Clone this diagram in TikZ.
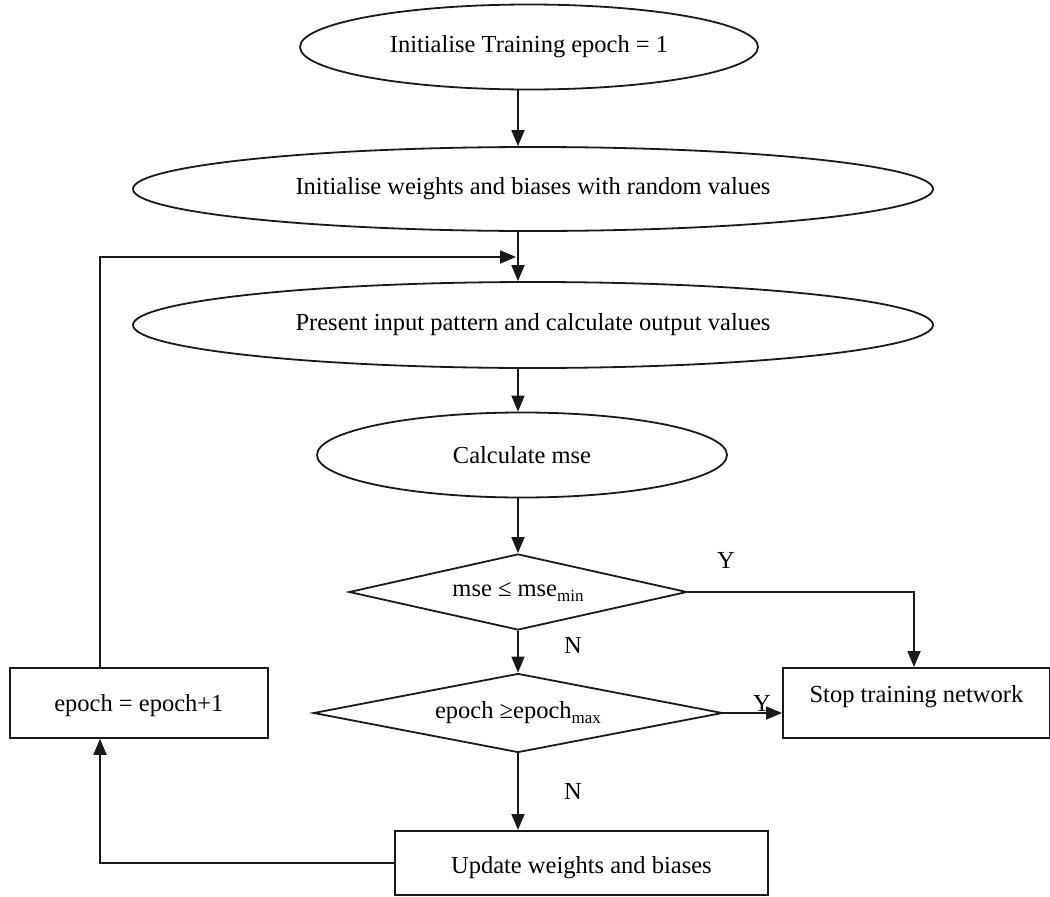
\documentclass[tikz,border=0pt]{standalone}
\usepackage{fontspec}
\setmainfont{Liberation Serif}
\usetikzlibrary{shapes.geometric,arrows.meta}
\newcommand\lowsub[1]{\raisebox{-5pt}{\fontsize{17}{17}\selectfont #1}}
\begin{document}
\begin{tikzpicture}[x=1pt,y=-1pt,
  every node/.style={font=\fontsize{24.5}{28}\selectfont, inner sep=0pt},
  line/.style={line width=1.8pt, draw=black!90},
  arr/.style={line, -{Triangle[length=16pt,width=13pt]}},
  ell/.style={ellipse, line, minimum width=#1},
  dia/.style={diamond, line, aspect=4.5},
  boxnode/.style={rectangle, line, anchor=north west},
  lbl/.style={font=\fontsize{24.5}{28}\selectfont}]
\useasboundingbox (0,0) rectangle (1050,897);
\coordinate (col) at (518,0);
\coordinate (lx) at (100,0);
\coordinate (sx) at (914,0);
\coordinate (join) at (516,257);

\node[ell=458, minimum height=85] (e1) at (529,47) {Initialise Training epoch = 1};
\node[ell=800, minimum height=84] (e2) at (533,189) {Initialise weights and biases with random values};
\node[ell=800, minimum height=86] (e3) at (533,325) {Present input pattern and calculate output values};
\node[ell=410, minimum height=85] (e4) at (522,455) {Calculate mse};
\node[dia, minimum width=338, minimum height=76] (d1) at (518,592) {mse ≤ mse\lowsub{min}};
\node[dia, minimum width=409, minimum height=79] (d2) at (518,713) {epoch ≥epoch\lowsub{max}};
\node[boxnode, minimum width=258, text height=44pt, text depth=26pt] (eb) at (9,667) {epoch = epoch+1};
\node[boxnode, minimum width=267, text height=35pt, text depth=35pt] (stop) at (782,667) {Stop training network};
\node[boxnode, minimum width=373, text height=43pt, text depth=21pt] (upd) at (394,830) {Update weights and biases};

\draw[arr] (e1.south -| col) -- (e2.north -| col);
\draw[arr] (e2.south -| col) -- (e3.north -| col);
\draw[arr] (eb.north -| lx) |- (join);
\draw[arr] (e3.south -| col) -- (e4.north -| col);
\draw[arr] (e4.south -| col) -- (d1.north -| col);
\draw[arr] (d1.south -| col) -- (d2.north -| col);
\draw[arr] (d1.east) -| (stop.north -| sx);
\draw[arr] (d2.east) -- (d2.east -| stop.west);
\draw[arr] (d2.south -| col) -- (upd.north -| col);
\draw[arr] (upd.west) -| (eb.south -| lx);

\node[lbl] (y1) at (726,560) {Y};
\node[lbl] (n1) at (573,645) {N};
\node[lbl] (y2) at (762,703) {Y};
\node[lbl] (n2) at (573,791) {N};
\end{tikzpicture}
\end{document}
